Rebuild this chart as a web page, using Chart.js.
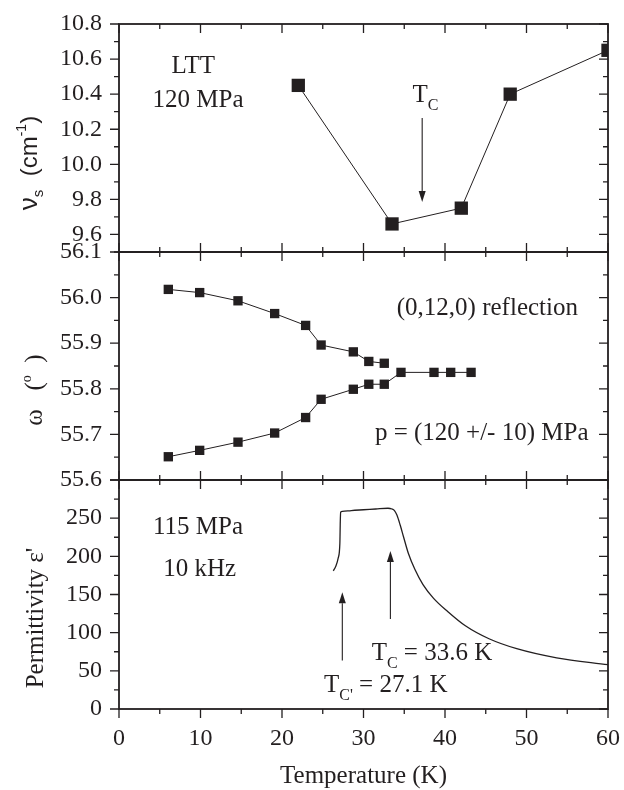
<!DOCTYPE html>
<html>
<head>
<meta charset="utf-8">
<script src="https://cdn.jsdelivr.net/npm/chart.js@4.4.1/dist/chart.umd.min.js"></script>
<style>
  html, body { margin: 0; padding: 0; background: #fff; }
  #wrap { position: relative; width: 624px; height: 790px; overflow: hidden; }
  #wrap canvas { position: absolute; left: 0; }
</style>
</head>
<body>
<div id="wrap">
  <canvas id="cTop" width="624" height="276" style="top:0px"></canvas>
  <canvas id="cMid" width="624" height="276" style="top:228px"></canvas>
  <canvas id="cBot" width="624" height="334" style="top:456px"></canvas>
</div>
<script>
(function () {
  var INK = '#231f20';
  var SERIF = '"Liberation Serif", "Times New Roman", serif';
  var SANS = '"Liberation Sans", Arial, sans-serif';

  // shared temperature axis
  var tempMajor = [0, 10, 20, 30, 40, 50, 60];
  var tempMinor = [5, 15, 25, 35, 45, 55];

  // top panel: soft mode frequency
  var nuTemp = [22, 33.5, 42, 48, 60];
  var nuValue = [10.45, 9.66, 9.75, 10.40, 10.65];
  var nuMajor = [9.6, 9.8, 10.0, 10.2, 10.4, 10.6, 10.8];
  var nuMinor = [9.5, 9.7, 9.9, 10.1, 10.3, 10.5, 10.7];

  // middle panel: omega of (0,12,0) reflection
  var omegaTempUpper = [6.05, 9.9, 14.6, 19.1, 22.9, 24.8, 28.75, 30.65, 32.55];
  var omegaUpper = [56.018, 56.011, 55.993, 55.965, 55.939, 55.896, 55.881, 55.860, 55.856];
  var omegaTempLower = [6.05, 9.9, 14.6, 19.1, 22.9, 24.8, 28.75, 30.65, 32.55, 34.6, 38.65, 40.7, 43.2];
  var omegaLower = [55.651, 55.665, 55.683, 55.703, 55.737, 55.777, 55.799, 55.810, 55.810, 55.836, 55.836, 55.836, 55.836];
  var omegaMajor = [55.6, 55.7, 55.8, 55.9, 56.0, 56.1];
  var omegaMinor = [55.65, 55.75, 55.85, 55.95, 56.05];

  // bottom panel: permittivity
  var epsTemp = [26.3, 26.6, 26.9, 27.1, 27.15, 27.2, 27.4, 28.5, 30, 31.5, 33.0, 33.5, 33.8, 34.1, 34.5, 34.9, 35.5, 36.3, 37.3, 38.6, 40.3, 42.5, 45.4, 48.8, 53.7, 60];
  var epsValue = [181, 187, 198, 217, 245, 258, 259, 260, 261, 262, 263, 262, 260, 254, 241, 226, 204, 183, 163, 145, 128, 109, 92, 79, 67, 58];
  var epsMajor = [0, 50, 100, 150, 200, 250, 300];
  var epsMinor = [25, 75, 125, 175, 225, 275];
  var epsLabels = [0, 50, 100, 150, 200, 250];

  function pts(xs, ys) {
    return xs.map(function (x, i) { return { x: x, y: ys[i] }; });
  }

  function part(t, size, dy, font) {
    return { t: t, size: size, dy: dy || 0, font: font || SERIF };
  }

  function drawRich(ctx, x, y, parts, align) {
    var w = 0;
    parts.forEach(function (p) {
      ctx.font = p.size + 'px ' + p.font;
      p.w = ctx.measureText(p.t).width;
      w += p.w;
    });
    var cx = align === 'center' ? x - w / 2 : x;
    parts.forEach(function (p) {
      ctx.font = p.size + 'px ' + p.font;
      ctx.textAlign = 'left';
      ctx.fillText(p.t, cx, y + p.dy);
      cx += p.w;
    });
  }

  function drawArrow(ctx, px, py0, py1) {
    var dir = py1 > py0 ? 1 : -1;
    var head = 11, half = 3.5;
    ctx.beginPath();
    ctx.moveTo(px, py0);
    ctx.lineTo(px, py1 - dir * head);
    ctx.stroke();
    ctx.beginPath();
    ctx.moveTo(px, py1);
    ctx.lineTo(px - half, py1 - dir * head);
    ctx.lineTo(px + half, py1 - dir * head);
    ctx.closePath();
    ctx.fill();
  }

  var framePlugin = {
    id: 'frame',
    afterDraw: function (chart, args, o) {
      var ctx = chart.ctx, a = chart.chartArea;
      var xs = chart.scales.x, ys = chart.scales.y;
      ctx.save();
      ctx.strokeStyle = INK;
      ctx.fillStyle = INK;

      function xTick(v, len) {
        var px = xs.getPixelForValue(v);
        ctx.beginPath();
        ctx.moveTo(px, a.top); ctx.lineTo(px, a.top + len);
        ctx.moveTo(px, a.bottom); ctx.lineTo(px, o.bottomOut ? a.bottom + len : a.bottom - len);
        ctx.stroke();
      }
      function yTick(v, len) {
        var py = ys.getPixelForValue(v);
        ctx.beginPath();
        ctx.moveTo(a.left - len, py); ctx.lineTo(a.left, py);
        ctx.moveTo(a.right - len, py); ctx.lineTo(a.right, py);
        ctx.stroke();
      }

      ctx.lineWidth = 1.3;
      tempMajor.forEach(function (v) { xTick(v, 9); });
      tempMinor.forEach(function (v) { xTick(v, 5); });
      o.yMajor.forEach(function (v) { yTick(v, 9); });
      o.yMinor.forEach(function (v) { yTick(v, 5); });

      ctx.lineWidth = 1.8;
      ctx.strokeRect(a.left, a.top, a.right - a.left, a.bottom - a.top);

      // annotations
      ctx.lineWidth = 1.1;
      ctx.textBaseline = 'alphabetic';
      (o.arrows || []).forEach(function (ar) {
        drawArrow(ctx, xs.getPixelForValue(ar.x), ys.getPixelForValue(ar.from), ys.getPixelForValue(ar.to));
      });
      (o.notes || []).forEach(function (n) {
        drawRich(ctx, xs.getPixelForValue(n.x), ys.getPixelForValue(n.y), n.parts, n.align);
      });

      // rotated y title
      if (o.yTitle) {
        ctx.save();
        ctx.translate(o.yTitle.x, o.yTitle.y);
        ctx.rotate(-Math.PI / 2);
        drawRich(ctx, 0, 0, o.yTitle.parts, 'center');
        ctx.restore();
      }
      if (o.xTitle) {
        drawRich(ctx, (a.left + a.right) / 2, o.xTitle.y, o.xTitle.parts, 'center');
      }
      ctx.restore();
    }
  };

  // label offset comes from an invisible tick length so the layout keeps the padding we ask for
  function yScale(min, max, labels, fmt) {
    return {
      type: 'linear',
      position: 'left',
      min: min,
      max: max,
      grid: { display: false, drawTicks: true, tickLength: 17 },
      border: { display: false },
      ticks: {
        color: INK,
        font: { family: SERIF, size: 24 },
        padding: 0,
        autoSkip: false,
        callback: fmt
      },
      afterBuildTicks: function (scale) {
        scale.ticks = labels.map(function (v) { return { value: v }; });
      },
      afterFit: function (scale) { scale.width = 119; }
    };
  }

  function hiddenX() {
    return { type: 'linear', min: 0, max: 60, display: false, ticks: { display: false } };
  }

  function baseOptions(padTop, padBottom) {
    return {
      responsive: false,
      animation: false,
      devicePixelRatio: 1,
      layout: { autoPadding: false, padding: { top: padTop, bottom: padBottom, left: 0, right: 16 } },
      plugins: { legend: { display: false }, tooltip: { enabled: false } }
    };
  }

  function oneDecimal(v) { return Number(v).toFixed(1); }

  // ---- top ----
  var topOpts = baseOptions(24, 24);
  topOpts.scales = { x: hiddenX(), y: yScale(9.5, 10.8, nuMajor, oneDecimal) };
  topOpts.plugins.frame = {
    yMajor: nuMajor, yMinor: nuMinor, bottomOut: false,
    arrows: [{ x: 37.2, from: 10.264, to: 9.785 }],
    notes: [
      { x: 9.1, y: 10.52, align: 'center', parts: [part('LTT', 25)] },
      { x: 9.7, y: 10.325, align: 'center', parts: [part('120 MPa', 25)] },
      { x: 36.0, y: 10.355, align: 'left', parts: [part('T', 25), part('C', 16, 8)] }
    ],
    yTitle: { x: 37, y: 163, parts: [part('\u03bd', 26, 0, SANS), part('s', 15, 6, SANS), part('  (cm', 24, 0, SANS), part('-1', 14, -11, SANS), part(')', 24, 0, SANS)] }
  };
  new Chart(document.getElementById('cTop'), {
    type: 'line',
    data: {
      datasets: [{
        data: pts(nuTemp, nuValue),
        borderColor: INK,
        borderWidth: 1,
        pointStyle: 'rect',
        pointRadius: 9.4,
        pointBorderWidth: 0,
        pointBackgroundColor: INK,
        clip: 0
      }]
    },
    options: topOpts,
    plugins: [framePlugin]
  });

  // ---- middle ----
  var midOpts = baseOptions(24, 24);
  midOpts.scales = { x: hiddenX(), y: yScale(55.6, 56.1, omegaMajor, oneDecimal) };
  midOpts.plugins.frame = {
    yMajor: omegaMajor, yMinor: omegaMinor, bottomOut: false,
    notes: [
      { x: 45.2, y: 55.962, align: 'center', parts: [part('(0,12,0) reflection', 25)] },
      { x: 44.5, y: 55.688, align: 'center', parts: [part('p = (120 +/- 10) MPa', 25)] }
    ],
    yTitle: { x: 42, y: 162, parts: [part('\u03c9', 25), part('   (', 25), part('o', 14, -11), part('  )', 25)] }
  };
  function omegaSet(xs, ys) {
    return {
      data: pts(xs, ys),
      borderColor: INK,
      borderWidth: 1,
      pointStyle: 'rect',
      pointRadius: 6.6,
      pointBorderWidth: 0,
      pointBackgroundColor: INK
    };
  }
  new Chart(document.getElementById('cMid'), {
    type: 'line',
    data: { datasets: [omegaSet(omegaTempUpper, omegaUpper), omegaSet(omegaTempLower, omegaLower)] },
    options: midOpts,
    plugins: [framePlugin]
  });

  // ---- bottom ----
  var botOpts = baseOptions(24, 0);
  botOpts.scales = {
    x: {
      type: 'linear',
      min: 0,
      max: 60,
      grid: { display: false, drawTicks: true, tickLength: 15 },
      border: { display: false },
      ticks: {
        color: INK,
        font: { family: SERIF, size: 24 },
        padding: 0,
        autoSkip: false,
        maxRotation: 0
      },
      afterBuildTicks: function (scale) {
        scale.ticks = tempMajor.map(function (v) { return { value: v }; });
      },
      afterFit: function (scale) { scale.height = 81; }
    },
    y: yScale(0, 300, epsLabels, function (v) { return String(v); })
  };
  botOpts.plugins.frame = {
    yMajor: epsMajor, yMinor: epsMinor, bottomOut: true,
    arrows: [
      { x: 27.4, from: 63.6, to: 153 },
      { x: 33.3, from: 118, to: 207 }
    ],
    notes: [
      { x: 9.7, y: 229, align: 'center', parts: [part('115 MPa', 25)] },
      { x: 9.9, y: 174, align: 'center', parts: [part('10 kHz', 25)] },
      { x: 31.0, y: 63.6, align: 'left', parts: [part('T', 25), part('C', 16, 8), part(' = 33.6 K', 25)] },
      { x: 25.15, y: 22, align: 'left', parts: [part('T', 25), part("C'", 16, 8), part(' = 27.1 K', 25)] }
    ],
    yTitle: { x: 43, y: 162, parts: [part("Permittivity \u03b5'", 25)] },
    xTitle: { y: 327, parts: [part('Temperature (K)', 25)] }
  };
  new Chart(document.getElementById('cBot'), {
    type: 'line',
    data: {
      datasets: [{
        data: pts(epsTemp, epsValue),
        borderColor: INK,
        borderWidth: 1.3,
        pointRadius: 0,
        cubicInterpolationMode: 'monotone'
      }]
    },
    options: botOpts,
    plugins: [framePlugin]
  });
})();
</script>
</body>
</html>
